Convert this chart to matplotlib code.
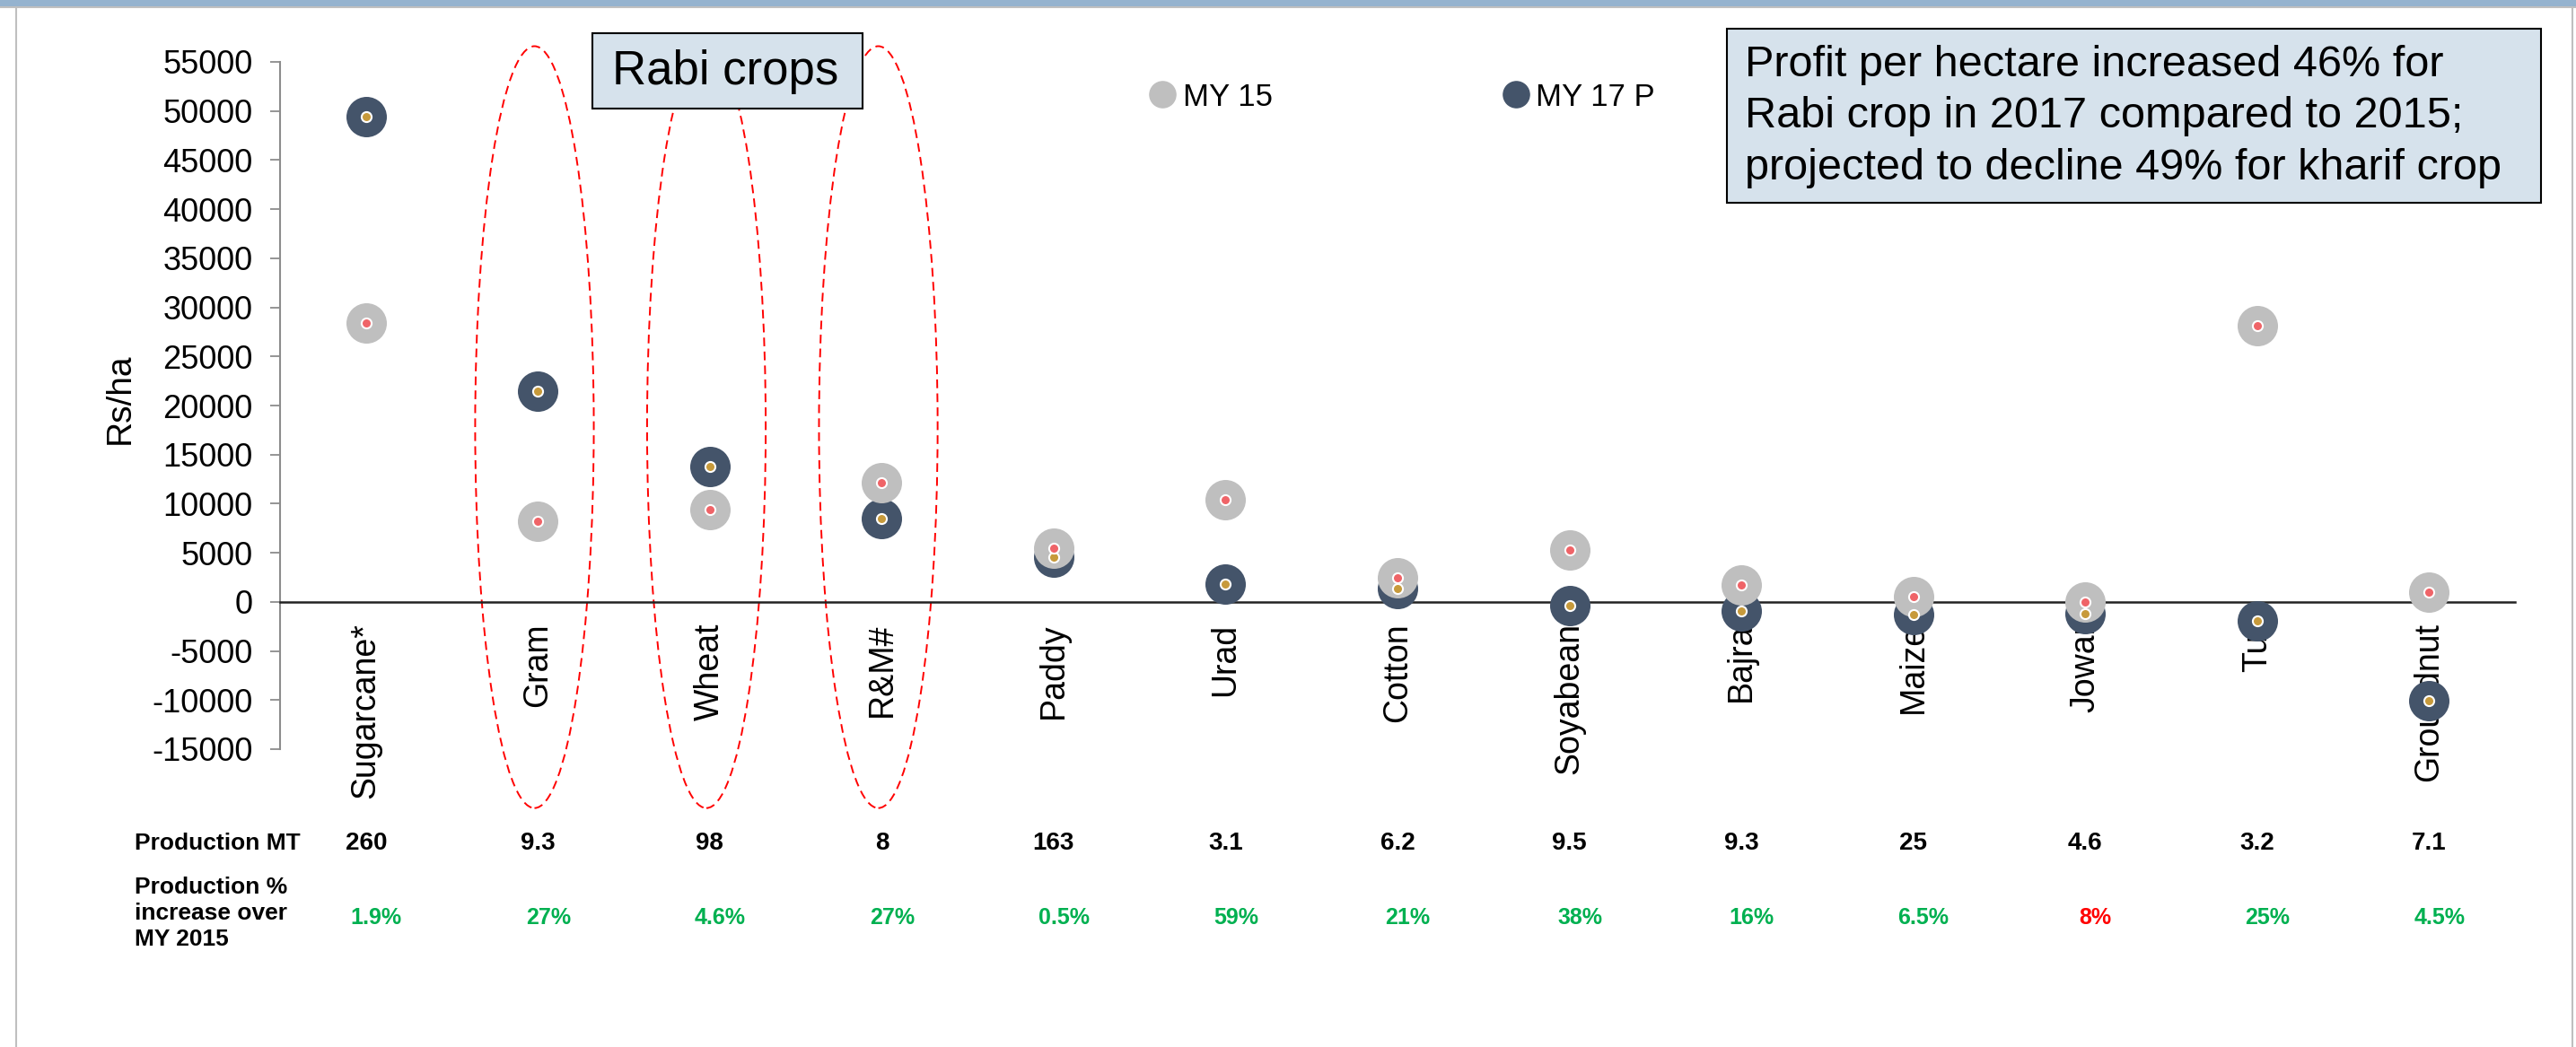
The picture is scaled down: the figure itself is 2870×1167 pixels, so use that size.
import matplotlib
matplotlib.use("Agg")
import matplotlib.pyplot as plt
from matplotlib.patches import Ellipse, Rectangle
from matplotlib.lines import Line2D
import matplotlib.transforms as mtransforms

plt.rcParams['font.family'] = ['Liberation Sans', 'DejaVu Sans']
plt.rcParams['axes.unicode_minus'] = False

# ---------------------------------------------------
# Data (Rs/ha profit per hectare)
# ---------------------------------------------------
crops = ["Sugarcane*", "Gram", "Wheat", "R&M#", "Paddy", "Urad", "Cotton",
         "Soyabean", "Bajra", "Maize", "Jowar", "Tur", "Groundnut"]
my15 = [28400, 8200, 9400, 12100, 5500, 10400, 2500, 5300, 1700, 500, 0, 28100, 1000]
my17 = [49400, 21500, 13800, 8500, 4600, 1800, 1400, -400, -900, -1300, -1200, -1900, -10100]

production_mt = ["260", "9.3", "98", "8", "163", "3.1", "6.2", "9.5", "9.3", "25", "4.6", "3.2", "7.1"]
production_pct = ["1.9%", "27%", "4.6%", "27%", "0.5%", "59%", "21%", "38%", "16%", "6.5%", "8%", "25%", "4.5%"]
pct_colors = ["#00B050"] * 10 + ["#FF0000"] + ["#00B050"] * 2

rabi_idx = [1, 2, 3]

yticks = list(range(-15000, 55001, 5000))

# colours
c15, c15_in = "#BFBFBF", "#EF6468"
c17, c17_in = "#44546A", "#C79A3B"

W, H = 2870, 1167
fig = plt.figure(figsize=(W / 100, H / 100), dpi=100)
ax = fig.add_axes([312 / W, 1 - 835 / H, 2490 / W, 766 / H])

x = list(range(len(crops)))

# axis setup first (moving the spine resets tick properties)
ax.spines["top"].set_visible(False)
ax.spines["right"].set_visible(False)
ax.spines["bottom"].set_position(("data", 0))
ax.spines["bottom"].set_color("#222222")
ax.spines["bottom"].set_linewidth(1.8)
ax.spines["left"].set_color("#8C8C8C")
ax.spines["left"].set_linewidth(1.5)

# big circles then inner dots
ax.scatter(x, my17, s=1050, color=c17, zorder=3, linewidths=0)
ax.scatter(x, my15, s=1050, color=c15, zorder=4, linewidths=0)
ax.scatter(x, my17, s=64, color=c17_in, edgecolors="white", linewidths=1.5, zorder=5)
ax.scatter(x, my15, s=64, color=c15_in, edgecolors="white", linewidths=1.5, zorder=6)

ax.set_xlim(-0.5, len(crops) - 0.5)
ax.set_ylim(-15000, 55000)
ax.set_yticks(yticks)
ax.set_yticklabels([str(v) for v in yticks])
ax.set_xticks(x)
ax.set_xticklabels(crops)
ax.tick_params(axis="x", length=0, pad=17, labelsize=27, labelrotation=90)
ax.tick_params(axis="y", direction="out", length=8, width=1.3, color="#8C8C8C", pad=14, labelsize=26)
for lbl in ax.get_xticklabels():
    lbl.set_va("top")
    lbl.set_ha("center")

ax.set_ylabel("Rs/ha", fontsize=28, va="center")
ax.yaxis.set_label_coords(-0.0715, 0.51)

# rabi crop ellipses
for i in rabi_idx:
    e = Ellipse((i - 0.02, 17800), 0.69, 77600, fill=False, edgecolor="#FF0000",
                linestyle=(0, (5, 3)), linewidth=1.4, clip_on=False, zorder=2)
    ax.add_patch(e)

# legend
handles = [Line2D([], [], marker="o", ls="", markersize=21, color=c15, label="MY 15"),
           Line2D([], [], marker="o", ls="", markersize=21, color=c17, label="MY 17 P")]
ax.legend(handles=handles, ncol=2, frameon=False, fontsize=25, loc="center left",
          bbox_to_anchor=(1278 / W, 1 - 108 / H), bbox_transform=fig.transFigure,
          borderaxespad=0, borderpad=0, handlelength=1, handletextpad=0.15,
          columnspacing=7.3)

# boxes
box_color = "#D6E2EC"
fig.patches.append(Rectangle((660 / W, 1 - 121 / H), 301 / W, 84 / H, transform=fig.transFigure,
                             facecolor=box_color, edgecolor="black", linewidth=1.5, zorder=10))
fig.text(808 / W, 1 - 80 / H, "Rabi crops", fontsize=38, ha="center", va="center", zorder=11)

fig.patches.append(Rectangle((1924 / W, 1 - 226 / H), 907 / W, 194 / H, transform=fig.transFigure,
                             facecolor=box_color, edgecolor="black", linewidth=1.5, zorder=10))
fig.text(1944 / W, 1 - 130 / H,
         "Profit per hectare increased 46% for\nRabi crop in 2017 compared to 2015;\n"
         "projected to decline 49% for kharif crop",
         fontsize=35, ha="left", va="center", linespacing=1.36, zorder=11)

# table rows under the chart
trans = mtransforms.blended_transform_factory(ax.transData, fig.transFigure)
fig.text(150 / W, 1 - 940 / H, "Production MT", fontsize=19, fontweight="bold", va="center")
fig.text(150 / W, 1 - 1018 / H, "Production %\nincrease over\nMY 2015", fontsize=19,
         fontweight="bold", va="center", linespacing=1.25)
for i in x:
    ax.text(i, 1 - 940 / H, production_mt[i], transform=trans, fontsize=20, fontweight="bold",
            ha="center", va="center")
    ax.text(i + 0.06, 1 - 1023 / H, production_pct[i], transform=trans, fontsize=18,
            fontweight="bold", ha="center", va="center", color=pct_colors[i])

# slide frame
fig.patches.append(Rectangle((0, 1 - 7 / H), 1, 7 / H, transform=fig.transFigure,
                             facecolor="#95B3CF", edgecolor="none"))
fig.lines.append(Line2D([0, 1], [1 - 8 / H, 1 - 8 / H], transform=fig.transFigure, color="#BFBFBF", lw=1.5))
fig.lines.append(Line2D([18 / W, 18 / W], [0, 1 - 8 / H], transform=fig.transFigure, color="#BFBFBF", lw=1.5))
fig.lines.append(Line2D([2866 / W, 2866 / W], [0, 1 - 8 / H], transform=fig.transFigure, color="#BFBFBF", lw=1.5))

fig.savefig("out.png", dpi=100)
